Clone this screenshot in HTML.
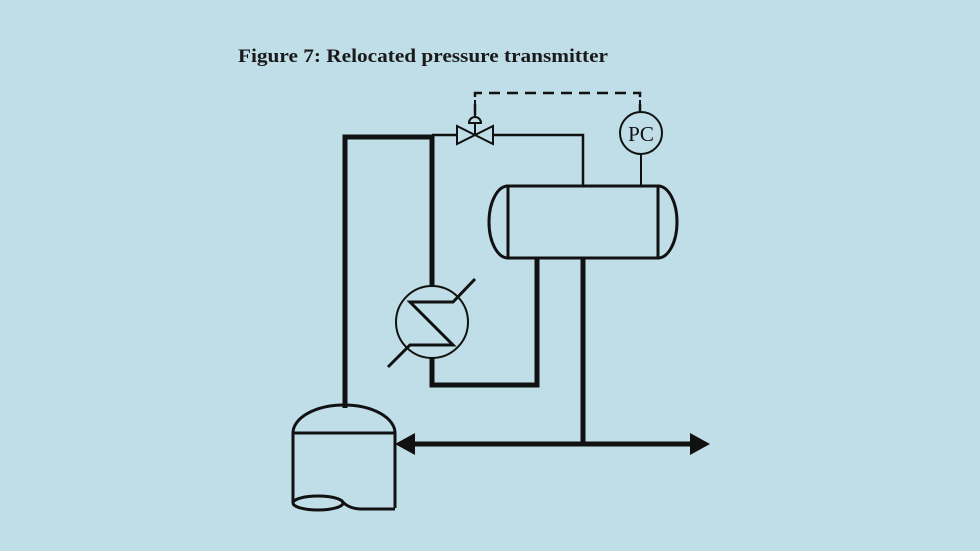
<!DOCTYPE html>
<html><head><meta charset="utf-8"><style>
html,body{margin:0;padding:0;background:#c0dee7;}
svg{display:block}
</style></head><body>
<svg width="980" height="551" viewBox="0 0 980 551" xmlns="http://www.w3.org/2000/svg">
<rect width="980" height="551" fill="#c0dee7"/>
<text x="238" y="62" font-family="Liberation Serif, serif" font-weight="bold" font-size="19" fill="#1a1a1a" textLength="370" lengthAdjust="spacingAndGlyphs">Figure 7: Relocated pressure transmitter</text>
<g fill="none" stroke="#111" stroke-linecap="butt">
<path d="M475 115 V93 H640 V112" stroke-width="2.5" stroke-dasharray="11,7"/>
<line x1="475" y1="100" x2="475" y2="118" stroke-width="2"/>
<line x1="640" y1="100" x2="640" y2="112" stroke-width="2"/>
<path d="M469 123 A6 6 0 0 1 481 123 Z" stroke-width="2"/>
<line x1="475" y1="123" x2="475" y2="135" stroke-width="2"/>
<path d="M457 126 L457 144 L493 126 L493 144 Z" stroke-width="2"/>
<path d="M432 135 H457 M493 135 H583 V186" stroke-width="2.5"/>
<circle cx="641" cy="133" r="21" stroke-width="2"/>
<line x1="641" y1="154" x2="641" y2="186" stroke-width="2"/>
<path d="M345 408 V137 H432 V286" stroke-width="5"/>
<path d="M432 358 V385 H537 V258" stroke-width="5"/>
<path d="M583 258 V444" stroke-width="5"/>
<line x1="408" y1="444" x2="696" y2="444" stroke-width="5"/>
<rect x="508" y="186" width="150" height="72" stroke-width="3"/>
<path d="M508 186 A19 36 0 0 0 508 258" stroke-width="3"/>
<path d="M658 186 A19 36 0 0 1 658 258" stroke-width="3"/>
<circle cx="432" cy="322" r="36" stroke-width="2"/>
<path d="M475 279 L453 302 H410 L453 345 H410 L388 367" stroke-width="3"/>
<path d="M293 433 A51 28 0 0 1 395 433 Z" stroke-width="3"/>
<path d="M293 433 V503 M395 433 V508" stroke-width="3"/>
<ellipse cx="318" cy="503" rx="25" ry="7" stroke-width="3"/>
<path d="M341 500 Q348 509 362 509 H395" stroke-width="3"/>
</g>
<polygon points="395,444 415,433 415,455" fill="#111"/>
<polygon points="710,444 690,433 690,455" fill="#111"/>
<text x="641" y="141" text-anchor="middle" font-family="Liberation Serif, serif" font-size="21" fill="#111">PC</text>
</svg>
</body></html>
